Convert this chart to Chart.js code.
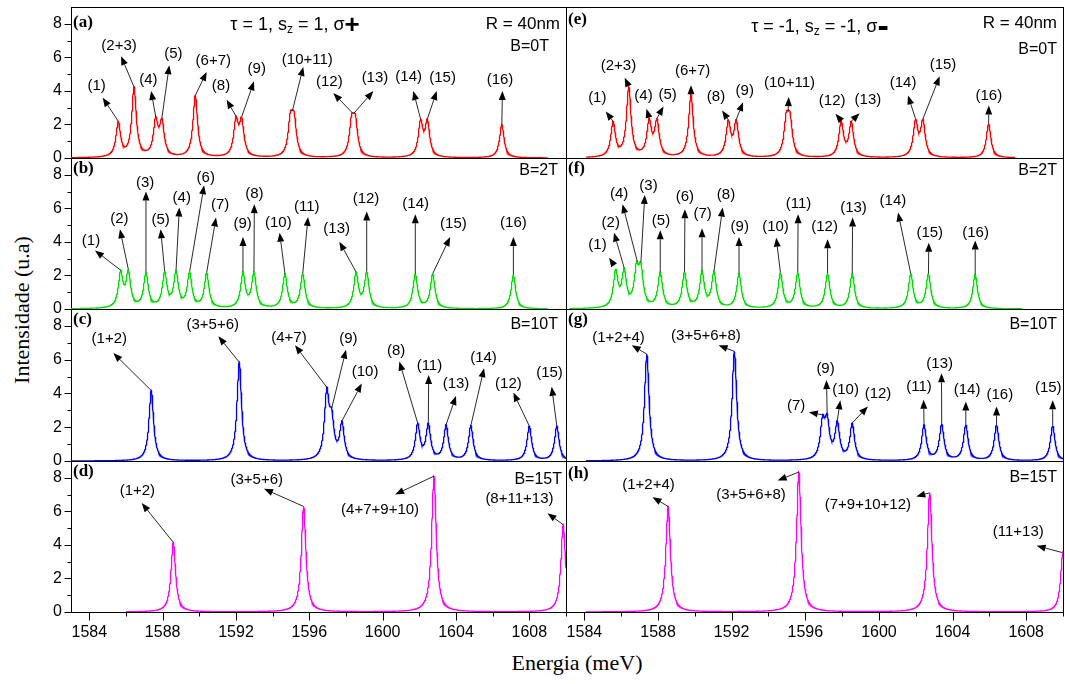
<!DOCTYPE html>
<html>
<head>
<meta charset="utf-8">
<script src="https://cdn.jsdelivr.net/npm/chart.js@4.4.1/dist/chart.umd.min.js"></script>
<style>
body { margin: 0; background: #fff; width: 1065px; height: 684px; position: relative; overflow: hidden; }
canvas { position: absolute; }
.axtitle { position: absolute; font-family: "Liberation Serif", "Times New Roman", serif; font-size: 22px; color: #000; white-space: nowrap; transform: translate(-50%, -50%); }
#yt { transform: translate(-50%, -50%) rotate(-90deg); }
</style>
</head>
<body>
<div class="axtitle" id="xt" style="left:577px;top:663px">Energia (meV)</div>
<div class="axtitle" id="yt" style="left:22px;top:310px">Intensidade (u.a)</div>
<script>
// axes
const xTicks = [1584, 1588, 1592, 1596, 1600, 1604, 1608];
const xMinor = [1586, 1590, 1594, 1598, 1602, 1606, 1610];
const yTicks = [0, 2, 4, 6, 8];
const yMinor = [1, 3, 5, 7];

// peak centres (meV) and heights
const peaksA = [1585.58, 1586.44, 1587.62, 1587.96, 1589.78, 1592.00, 1592.31, 1594.97, 1595.17, 1598.31, 1598.51, 1602.07, 1602.44, 1606.50];
const heightsA = [2.19, 4.23, 2.47, 2.40, 3.73, 2.49, 2.45, 2.79, 2.79, 2.63, 2.63, 2.33, 2.33, 1.99];
const peaksB = [1585.71, 1586.13, 1587.09, 1588.11, 1588.73, 1589.47, 1590.40, 1592.38, 1592.98, 1594.67, 1595.64, 1598.55, 1599.13, 1601.78, 1602.73, 1607.13];
const heightsB = [2.31, 2.35, 2.19, 2.25, 2.31, 2.23, 2.17, 2.21, 2.21, 2.11, 2.11, 2.21, 2.23, 2.09, 2.11, 2.01];
const peaksC = [1587.38, 1592.18, 1596.95, 1597.22, 1597.78, 1601.91, 1602.49, 1603.46, 1604.81, 1608.00, 1609.50];
const heightsC = [4.17, 5.85, 4.37, 3.13, 2.37, 2.25, 2.25, 2.15, 2.10, 2.07, 2.07];
const peaksD = [1588.58, 1595.69, 1602.80, 1609.85];
const heightsD = [4.15, 6.29, 8.10, 5.20];
const peaksE = [1585.56, 1586.41, 1587.52, 1587.94, 1589.79, 1591.82, 1592.25, 1594.97, 1595.17, 1597.95, 1598.50, 1601.99, 1602.39, 1605.96];
const heightsE = [2.19, 4.27, 2.39, 2.37, 3.77, 2.27, 2.29, 2.77, 2.77, 2.23, 2.19, 2.33, 2.33, 2.03];
const peaksF = [1585.70, 1586.16, 1586.83, 1587.07, 1588.12, 1589.44, 1590.39, 1591.04, 1592.40, 1594.65, 1595.59, 1597.21, 1598.55, 1601.73, 1602.69, 1605.23];
const heightsF = [2.39, 2.45, 2.81, 2.79, 2.21, 2.21, 2.29, 2.25, 2.11, 2.17, 2.17, 2.11, 2.11, 2.11, 2.11, 2.05];
const peaksG = [1587.39, 1592.15, 1596.94, 1597.19, 1597.74, 1598.55, 1602.45, 1603.41, 1604.72, 1606.39, 1609.44];
const heightsG = [6.33, 6.49, 2.73, 2.79, 2.39, 2.25, 2.15, 2.19, 2.15, 2.13, 2.09];
const peaksH = [1588.55, 1595.65, 1602.76, 1610.00];
const heightsH = [6.29, 8.34, 7.10, 3.60];

// labels: text, label x/y, arrow head x/y, arrow tail x/y (data units)
const notesA = [
	['(1)', 1584.40, 4.27, 1584.73, 3.59, 1585.58, 2.19],
	['(2+3)', 1585.62, 6.66, 1585.73, 6.07, 1586.44, 4.23],
	['(4)', 1587.22, 4.67, 1587.37, 3.99, 1587.62, 2.47],
	['(5)', 1588.58, 6.23, 1588.36, 5.53, 1587.96, 2.40],
	['(6+7)', 1590.76, 5.78, 1590.40, 5.13, 1589.78, 3.73],
	['(8)', 1591.18, 4.29, 1591.49, 3.47, 1592.00, 2.49],
	['(9)', 1593.13, 5.33, 1592.98, 4.57, 1592.31, 2.45],
	['(10+11)', 1595.89, 5.83, 1595.67, 5.43, 1595.07, 2.79],
	['(12)', 1597.09, 4.53, 1597.31, 3.87, 1598.40, 2.63],
	['(13)', 1599.58, 4.77, 1599.49, 3.99, 1598.40, 2.63],
	['(14)', 1601.42, 4.83, 1601.67, 3.99, 1602.07, 2.33],
	['(15)', 1603.27, 4.77, 1602.95, 3.99, 1602.44, 2.33],
	['(16)', 1606.40, 4.67, 1606.53, 3.99, 1606.50, 1.99],
];
const notesB = [
	['(1)', 1584.09, 4.09, 1584.31, 3.49, 1585.71, 2.31],
	['(2)', 1585.64, 5.35, 1585.67, 4.75, 1586.13, 2.35],
	['(3)', 1587.04, 7.50, 1587.09, 7.00, 1587.09, 2.19],
	['(5)', 1587.89, 5.31, 1587.89, 4.75, 1588.11, 2.25],
	['(4)', 1589.04, 6.65, 1588.91, 6.05, 1588.73, 2.31],
	['(6)', 1590.35, 7.80, 1590.26, 7.38, 1589.47, 2.23],
	['(7)', 1591.13, 6.20, 1590.91, 5.45, 1590.40, 2.17],
	['(9)', 1592.36, 5.09, 1592.38, 4.29, 1592.38, 2.21],
	['(8)', 1593.00, 6.84, 1593.00, 6.25, 1592.98, 2.21],
	['(10)', 1594.31, 5.15, 1594.38, 4.55, 1594.67, 2.11],
	['(11)', 1595.86, 6.08, 1595.93, 5.49, 1595.64, 2.11],
	['(13)', 1597.49, 4.75, 1597.64, 4.01, 1598.55, 2.21],
	['(12)', 1599.09, 6.54, 1599.13, 5.81, 1599.13, 2.23],
	['(14)', 1601.80, 6.29, 1601.78, 5.65, 1601.78, 2.09],
	['(15)', 1603.86, 5.09, 1603.68, 4.29, 1602.73, 2.11],
	['(16)', 1607.13, 5.15, 1607.13, 4.29, 1607.13, 2.01],
];
const notesC = [
	['(1+2)', 1585.09, 7.25, 1585.31, 6.39, 1587.38, 4.17],
	['(3+5+6)', 1590.73, 8.04, 1591.04, 7.38, 1592.18, 5.85],
	['(4+7)', 1594.89, 7.29, 1595.22, 6.85, 1596.95, 4.37],
	['(9)', 1598.13, 7.25, 1598.00, 6.59, 1597.22, 3.13],
	['(10)', 1599.04, 5.29, 1598.86, 4.59, 1597.78, 2.37],
	['(8)', 1600.73, 6.53, 1600.91, 5.89, 1601.91, 2.25],
	['(11)', 1602.55, 5.65, 1602.51, 5.09, 1602.49, 2.25],
	['(13)', 1604.00, 4.55, 1604.00, 3.85, 1603.46, 2.15],
	['(14)', 1605.50, 6.13, 1605.53, 5.49, 1604.81, 2.10],
	['(12)', 1606.86, 4.59, 1607.13, 4.05, 1608.00, 2.07],
	['(15)', 1609.10, 5.19, 1609.22, 4.39, 1609.50, 2.07],
];
const notesD = [
	['(1+2)', 1586.62, 7.25, 1586.86, 6.49, 1588.58, 4.15],
	['(3+5+6)', 1593.13, 7.88, 1593.53, 7.34, 1595.69, 6.29],
	['(4+7+9+10)', 1599.86, 6.11, 1600.68, 7.00, 1602.80, 8.10],
	['(8+11+13)', 1607.46, 6.74, 1608.99, 5.89, 1609.85, 5.20],
];
const notesE = [
	['(1)', 1584.70, 3.59, 1585.16, 2.77, 1585.56, 2.19],
	['(2+3)', 1585.85, 5.47, 1586.19, 4.78, 1586.41, 4.27],
	['(4)', 1587.21, 3.69, 1587.37, 2.93, 1587.52, 2.39],
	['(5)', 1588.52, 3.77, 1588.30, 3.07, 1587.94, 2.37],
	['(6+7)', 1589.88, 5.19, 1589.79, 4.33, 1589.79, 3.77],
	['(8)', 1591.15, 3.63, 1591.48, 2.83, 1591.82, 2.27],
	['(9)', 1592.71, 3.99, 1592.62, 3.33, 1592.25, 2.29],
	['(10+11)', 1595.14, 4.49, 1595.10, 3.63, 1595.07, 2.77],
	['(12)', 1597.46, 3.39, 1597.64, 2.63, 1597.95, 2.23],
	['(13)', 1599.40, 3.49, 1598.95, 2.67, 1598.50, 2.19],
	['(14)', 1601.31, 4.47, 1601.58, 3.73, 1601.99, 2.33],
	['(15)', 1603.48, 5.53, 1603.30, 4.87, 1602.39, 2.33],
	['(16)', 1605.97, 3.73, 1605.97, 3.13, 1605.96, 2.03],
];
const notesF = [
	['(1)', 1584.71, 3.85, 1585.34, 3.05, 1585.61, 2.61],
	['(2)', 1585.43, 5.15, 1585.61, 4.55, 1586.16, 2.45],
	['(4)', 1585.89, 6.84, 1586.07, 6.25, 1586.88, 2.81],
	['(3)', 1587.48, 7.34, 1587.28, 6.80, 1587.07, 2.79],
	['(5)', 1588.16, 5.25, 1588.12, 4.69, 1588.12, 2.21],
	['(6)', 1589.46, 6.68, 1589.46, 5.95, 1589.44, 2.21],
	['(7)', 1590.42, 5.65, 1590.39, 4.81, 1590.39, 2.29],
	['(8)', 1591.69, 6.78, 1591.51, 6.05, 1591.04, 2.25],
	['(9)', 1592.44, 4.89, 1592.40, 4.29, 1592.40, 2.11],
	['(10)', 1594.38, 4.89, 1594.42, 4.25, 1594.65, 2.17],
	['(11)', 1595.63, 6.25, 1595.61, 5.65, 1595.59, 2.17],
	['(12)', 1597.05, 4.89, 1597.21, 4.15, 1597.21, 2.11],
	['(13)', 1598.62, 6.05, 1598.57, 5.45, 1598.55, 2.11],
	['(14)', 1600.76, 6.44, 1601.04, 5.75, 1601.73, 2.11],
	['(15)', 1602.76, 4.55, 1602.71, 3.95, 1602.69, 2.11],
	['(16)', 1605.25, 4.55, 1605.23, 4.09, 1605.23, 2.05],
];
const notesG = [
	['(1+2+4)', 1585.85, 7.29, 1586.57, 6.85, 1587.39, 6.33],
	['(3+5+6+8)', 1590.60, 7.39, 1591.29, 6.85, 1592.15, 6.49],
	['(7)', 1595.50, 3.25, 1596.19, 2.89, 1596.94, 2.73],
	['(9)', 1597.10, 5.43, 1597.15, 4.79, 1597.19, 2.79],
	['(10)', 1598.19, 4.23, 1597.90, 3.59, 1597.74, 2.39],
	['(12)', 1599.95, 3.99, 1599.40, 3.23, 1598.55, 2.25],
	['(11)', 1602.18, 4.39, 1602.43, 3.63, 1602.45, 2.15],
	['(13)', 1603.30, 5.75, 1603.40, 5.19, 1603.41, 2.19],
	['(14)', 1604.79, 4.19, 1604.72, 3.53, 1604.72, 2.15],
	['(16)', 1606.57, 3.93, 1606.39, 3.23, 1606.39, 2.13],
	['(15)', 1609.20, 4.33, 1609.44, 3.59, 1609.44, 2.09],
];
const notesH = [
	['(1+2+4)', 1587.48, 7.60, 1587.70, 6.84, 1588.55, 6.29],
	['(3+5+6+8)', 1593.05, 7.00, 1594.50, 7.84, 1595.65, 8.34],
	['(7+9+10+12)', 1599.40, 6.41, 1602.03, 6.89, 1602.76, 7.10],
	['(11+13)', 1607.57, 4.75, 1608.57, 3.95, 1609.93, 3.55],
];

const HWHM = 0.15;
const lorentz = (d) => 1 / (1 + (d / HWHM) * (d / HWHM));

// amplitudes so that the summed curve meets the read height at every centre
const amplitudes = (pos, h) => {
	let a = h.slice();
	for (let k = 0; k < 40; k++) {
		a = pos.map((x, i) => h[i] - pos.reduce((s, y, j) => (j === i ? s : s + a[j] * lorentz(x - y)), 0));
	}
	return a;
};

const buildCurve = (pos, h, from, to) => {
	const a = amplitudes(pos, h);
	const pts = [];
	const n = Math.round((to - from) / 0.01);
	for (let k = 0; k <= n; k++) {
		const x = from + k * 0.01;
		let y = 0;
		pos.forEach((p, i) => { y += a[i] * lorentz(x - p); });
		pts.push({ x: x, y: y });
	}
	return pts;
};

const panels = [
	{ col: 0, row: 0, color: '#ff0000', peaks: peaksA, heights: heightsA, notes: notesA, from: 1583, to: 1609, letter: '(a)', letterY: 16,
		B: 'B=0T', bAt: [17, 40], R: true, rAt: [6, 17], title: ['τ = 1, s', 'z', ' = 1, σ', '+'], titleAt: [224, 18] },
	{ col: 0, row: 1, color: '#00e000', peaks: peaksB, heights: heightsB, notes: notesB, from: 1583, to: 1609, letter: '(b)', letterY: 11, B: 'B=2T', bAt: [8, 13] },
	{ col: 0, row: 2, color: '#0000ff', peaks: peaksC, heights: heightsC, notes: notesC, from: 1583, to: 1610, letter: '(c)', letterY: 11, B: 'B=10T', bAt: [8, 16] },
	{ col: 0, row: 3, color: '#ff00ff', peaks: peaksD, heights: heightsD, notes: notesD, from: 1586, to: 1610, letter: '(d)', letterY: 11, B: 'B=15T', bAt: [4, 19] },
	{ col: 1, row: 0, color: '#ff0000', peaks: peaksE, heights: heightsE, notes: notesE, from: 1584.1, to: 1607.4, letter: '(e)', letterY: 13,
		B: 'B=0T', bAt: [6, 43], R: true, rAt: [6, 16], title: ['τ = -1, s', 'z', ' = -1, σ', '-'], titleAt: [254, 20] },
	{ col: 1, row: 1, color: '#00e000', peaks: peaksF, heights: heightsF, notes: notesF, from: 1583.2, to: 1607.8, letter: '(f)', letterY: 11, B: 'B=2T', bAt: [6, 13] },
	{ col: 1, row: 2, color: '#0000ff', peaks: peaksG, heights: heightsG, notes: notesG, from: 1584.1, to: 1610, letter: '(g)', letterY: 11, B: 'B=10T', bAt: [6, 16] },
	{ col: 1, row: 3, color: '#ff00ff', peaks: peaksH, heights: heightsH, notes: notesH, from: 1584.1, to: 1610, letter: '(h)', letterY: 13, B: 'B=15T', bAt: [6, 17] },
];

const colX = [71, 566];
const colW = [495, 497];
const rowEdges = [7, 158, 309, 461, 612];
const SANS = '"Liberation Sans", Arial, sans-serif';
const SERIF = '"Liberation Serif", "Times New Roman", serif';

Chart.defaults.font.family = SANS;
Chart.defaults.color = '#000';

const tickLine = (ctx, x1, y1, x2, y2) => {
	ctx.beginPath();
	ctx.moveTo(x1, y1);
	ctx.lineTo(x2, y2);
	ctx.stroke();
};

const drawArrow = (ctx, tx, ty, hx, hy) => {
	const ang = Math.atan2(hy - ty, hx - tx);
	const len = 9, half = 3.5;
	const bx = hx - len * Math.cos(ang), by = hy - len * Math.sin(ang);
	tickLine(ctx, tx, ty, bx, by);
	ctx.beginPath();
	ctx.moveTo(hx, hy);
	ctx.lineTo(bx + half * Math.sin(ang), by - half * Math.cos(ang));
	ctx.lineTo(bx - half * Math.sin(ang), by + half * Math.cos(ang));
	ctx.closePath();
	ctx.fill();
};

const drawTitle = (ctx, cx, cy, parts) => {
	const last = parts[3] === '-' ? 'bold 34px ' : 'bold 26px ';
	const fonts = ['18px ' + SANS, '12px ' + SANS, '18px ' + SANS, last + SANS];
	const dy = [0, 5, 0, 1];
	let w = 0;
	const widths = parts.map((t, i) => { ctx.font = fonts[i]; const m = ctx.measureText(t).width; w += m; return m; });
	let x = cx - w / 2;
	ctx.textAlign = 'left';
	ctx.textBaseline = 'middle';
	parts.forEach((t, i) => {
		ctx.font = fonts[i];
		ctx.fillText(t, x, cy + dy[i]);
		x += widths[i];
	});
};

const makeDecor = (p) => ({
	id: 'decor',
	beforeDatasetsDraw(chart) {
		const { ctx, chartArea: a } = chart;
		ctx.save();
		ctx.strokeStyle = '#000';
		ctx.lineWidth = 1;
		ctx.strokeRect(Math.round(a.left) + 0.5, Math.round(a.top) + 0.5, Math.round(a.width), Math.round(a.height));
		ctx.restore();
	},
	afterDatasetsDraw(chart) {
		const { ctx, chartArea: a } = chart;
		const xs = chart.scales.x, ys = chart.scales.y;
		const left = Math.round(a.left) + 0.5, bottom = Math.round(a.bottom) + 0.5;
		ctx.save();
		ctx.strokeStyle = '#000';
		ctx.fillStyle = '#000';
		ctx.lineWidth = 1;
		if (p.col === 0) {
			yTicks.forEach((v) => { const y = Math.round(ys.getPixelForValue(v)) + 0.5; tickLine(ctx, left - 7, y, left, y); });
			yMinor.forEach((v) => { const y = Math.round(ys.getPixelForValue(v)) + 0.5; tickLine(ctx, left - 4, y, left, y); });
		}
		if (p.row === 3) {
			xTicks.forEach((v) => { const x = Math.round(xs.getPixelForValue(v)) + 0.5; tickLine(ctx, x, bottom, x, bottom + 8); });
			xMinor.forEach((v) => { const x = Math.round(xs.getPixelForValue(v)) + 0.5; tickLine(ctx, x, bottom, x, bottom + 4); });
		}

		// arrows and peak labels
		ctx.lineWidth = 0.9;
		ctx.strokeStyle = '#111';
		ctx.fillStyle = '#000';
		ctx.font = '15px ' + SANS;
		ctx.textAlign = 'center';
		ctx.textBaseline = 'middle';
		p.notes.forEach(([text, lx, ly, hx, hy, tx, ty]) => {
			drawArrow(ctx, xs.getPixelForValue(tx), ys.getPixelForValue(ty), xs.getPixelForValue(hx), ys.getPixelForValue(hy));
			ctx.fillText(text, xs.getPixelForValue(lx), ys.getPixelForValue(ly));
		});

		// panel letter, field and title
		ctx.font = 'bold 17px ' + SERIF;
		ctx.textAlign = 'left';
		ctx.fillText(p.letter, a.left + 2, a.top + p.letterY);
		ctx.font = '16px ' + SANS;
		ctx.textAlign = 'right';
		ctx.fillText(p.B, a.right - p.bAt[0], a.top + p.bAt[1]);
		if (p.R) {
			ctx.font = '17px ' + SANS;
			ctx.fillText('R = 40nm', a.right - p.rAt[0], a.top + p.rAt[1]);
		}
		if (p.title) drawTitle(ctx, a.left + p.titleAt[0], a.top + p.titleAt[1], p.title);
		ctx.restore();
	},
});

panels.forEach((p) => {
	const L = colX[p.col], W = colW[p.col];
	const T = rowEdges[p.row], H = rowEdges[p.row + 1] - T;
	const isBottom = p.row === 3;
	const padL = p.col === 0 ? L : 12;
	const padR = 6, padT = 24;
	const padB = isBottom ? 52 : 24;
	const canvas = document.createElement('canvas');
	canvas.width = W + padL + padR;
	canvas.height = H + padT + padB;
	canvas.style.left = (L - padL) + 'px';
	canvas.style.top = (T - padT) + 'px';
	document.body.appendChild(canvas);

	new Chart(canvas, {
		type: 'line',
		data: {
			datasets: [{
				data: buildCurve(p.peaks, p.heights, p.from, p.to),
				borderColor: p.color,
				borderWidth: 1.3,
				pointRadius: 0,
				tension: 0,
				fill: false,
			}],
		},
		options: {
			responsive: false,
			animation: false,
			events: [],
			parsing: false,
			normalized: true,
			layout: { padding: { left: 0, right: padR, top: padT, bottom: isBottom ? 0 : padB } },
			plugins: { legend: { display: false }, tooltip: { enabled: false } },
			scales: {
				x: {
					type: 'linear',
					min: 1583,
					max: 1610,
					display: isBottom,
					afterBuildTicks: (s) => { s.ticks = xTicks.map((v) => ({ value: v })); },
					afterFit: (s) => { if (isBottom) s.height = padB; },
					grid: { display: false, drawTicks: false },
					border: { display: false },
					ticks: { padding: 11, autoSkip: false, maxRotation: 0, font: { size: 16 }, color: '#000', callback: (v) => String(v) },
				},
				y: {
					type: 'linear',
					min: 0,
					max: 9,
					afterBuildTicks: (s) => { s.ticks = yTicks.map((v) => ({ value: v })); },
					afterFit: (s) => { s.width = padL; },
					grid: { display: false, drawTicks: false },
					border: { display: false },
					ticks: { display: p.col === 0, padding: 9, font: { size: 16 }, color: '#000', callback: (v) => String(v) },
				},
			},
		},
		plugins: [makeDecor(p)],
	});
});
</script>
</body>
</html>
